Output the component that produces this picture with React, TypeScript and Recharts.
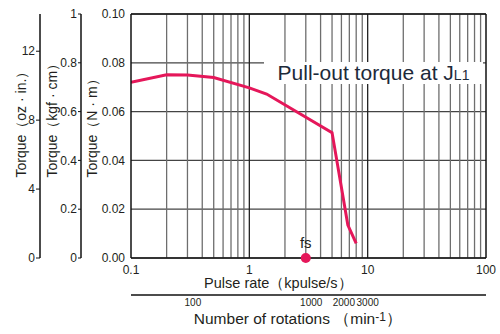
import {
  ComposedChart,
  Line,
  XAxis,
  YAxis,
  CartesianGrid,
  ReferenceLine,
  ReferenceDot,
} from 'recharts'

// pull-out torque curve
const pulseRate = [0.1, 0.2, 0.3, 0.5, 1.0, 1.4, 5.0, 6.8, 8.0]
const torqueNm = [0.072, 0.0751, 0.075, 0.074, 0.0697, 0.0672, 0.0514, 0.0135, 0.006]

const fsRate = 3.0

const pulseTicks = [0.1, 1, 10, 100]
const rpmTicks = [100, 1000, 2000, 3000]
const nmTicks = [0, 0.02, 0.04, 0.06, 0.08, 0.1]
const kgfTicks = [0, 0.2, 0.4, 0.6, 0.8, 1]
const ozTicks = [0, 4, 8, 12]

const decades = [0.1, 1, 10]
const minorSteps = [2, 3, 4, 5, 6, 7, 8, 9]
const minorLines = decades.flatMap((d) => minorSteps.map((m) => +(m * d).toFixed(2)))

const data = pulseRate.map((rate, i) => ({ rate, torque: torqueNm[i] }))

const TEXT = '#231f20'
const RED = '#e5175a'
const FONT = '"Liberation Sans", Arial, sans-serif'

// y axes are laid out by id order, innermost first
const NM = 'a_nm'
const KGF = 'b_kgf'
const OZ = 'c_oz'

function AxisTitle(props: any) {
  const { viewBox, text, dx } = props
  const cx = viewBox.x + dx
  const cy = viewBox.y + viewBox.height * 0.67
  return (
    <text
      x={cx}
      y={cy}
      transform={`rotate(-90 ${cx} ${cy})`}
      textAnchor="start"
      dominantBaseline="central"
      fill={TEXT}
      fontSize={14}
      fontFamily={FONT}
    >
      {text}
    </text>
  )
}

function PulseTitle(props: any) {
  const { viewBox } = props
  return (
    <text
      x={viewBox.x + viewBox.width * 0.415}
      y={viewBox.y + 30}
      textAnchor="middle"
      fill={TEXT}
      fontSize={14.5}
      fontFamily={FONT}
    >
      Pulse rate（kpulse/s）
    </text>
  )
}

function RpmTitle(props: any) {
  const { viewBox } = props
  return (
    <text
      x={viewBox.x + viewBox.width * 0.47}
      y={viewBox.y + 29}
      textAnchor="middle"
      fill={TEXT}
      fontSize={15.5}
      fontFamily={FONT}
    >
      Number of rotations （min
      <tspan fontSize={12} dy={-3}>-1</tspan>
      <tspan dy={3}>）</tspan>
    </text>
  )
}

// the 2000 label sits a little left in the original so it clears 3000
function RpmTick(props: any) {
  const { x, y, payload } = props
  const label = String(payload.value)
  return (
    <text
      x={x}
      y={y}
      dx={payload.value === 2000 ? -3 : 0}
      dy="0.71em"
      textAnchor="middle"
      fill={TEXT}
      fontSize={10}
      fontFamily={FONT}
    >
      {label}
    </text>
  )
}

export default function App() {
  const tick = { fill: TEXT, fontSize: 12, fontFamily: FONT }
  return (
    <div style={{ position: 'absolute', left: 0, top: 0, width: 500, height: 334, background: '#fff' }}>
      <ComposedChart
        width={500}
        height={334}
        data={data}
        margin={{ top: 14, right: 14, bottom: 0, left: 0 }}
      >
        <CartesianGrid
          xAxisId="pulse"
          yAxisId={NM}
          vertical={false}
          stroke="#444"
          strokeWidth={1.2}
        />
        <XAxis
          xAxisId="pulse"
          dataKey="rate"
          type="number"
          scale="log"
          domain={[0.1, 100]}
          allowDataOverflow
          ticks={pulseTicks}
          interval={0}
          tickFormatter={(v) => String(v)}
          tick={tick}
          tickLine={false}
          tickSize={6}
          tickMargin={1}
          axisLine={{ stroke: '#111', strokeWidth: 1.5 }}
          height={37}
          label={<PulseTitle />}
        />
        <XAxis
          xAxisId="rpm"
          dataKey="rpm"
          type="number"
          scale="log"
          domain={[30, 30000]}
          allowDataOverflow
          ticks={rpmTicks}
          interval={0}
          tick={<RpmTick />}
          tickLine={false}
          tickSize={2}
          tickMargin={2}
          axisLine={{ stroke: '#111', strokeWidth: 1.5 }}
          height={39}
          label={<RpmTitle />}
        />
        <YAxis
          yAxisId={NM}
          domain={[0, 0.1]}
          allowDataOverflow
          ticks={nmTicks}
          interval={0}
          tickFormatter={(v) => v.toFixed(2)}
          tick={tick}
          tickLine={false}
          tickSize={0}
          tickMargin={6}
          axisLine={{ stroke: '#111', strokeWidth: 1.5 }}
          width={50}
          label={<AxisTitle text="Torque（N · m）" dx={11} />}
        />
        <YAxis
          yAxisId={KGF}
          domain={[0, 1]}
          allowDataOverflow
          ticks={kgfTicks}
          interval={0}
          tickFormatter={(v) => String(v)}
          tick={tick}
          tickLine={{ stroke: '#111' }}
          tickSize={3}
          tickMargin={1}
          axisLine={{ stroke: '#111', strokeWidth: 1.5 }}
          width={41}
          label={<AxisTitle text="Torque（kgf · cm）" dx={12} />}
        />
        <YAxis
          yAxisId={OZ}
          domain={[0, 14.16]}
          allowDataOverflow
          ticks={ozTicks}
          interval={0}
          tick={tick}
          tickLine={{ stroke: '#111' }}
          tickSize={4}
          tickMargin={1}
          axisLine={{ stroke: '#111', strokeWidth: 1.5 }}
          width={40}
          label={<AxisTitle text="Torque（oz · in.）" dx={21} />}
        />
        {minorLines.map((v) => (
          <ReferenceLine
            key={v}
            x={v}
            xAxisId="pulse"
            yAxisId={NM}
            stroke="#6e6e6e"
            strokeWidth={1.3}
          />
        ))}
        {[1, 10].map((v) => (
          <ReferenceLine key={v} x={v} xAxisId="pulse" yAxisId={NM} stroke="#222" strokeWidth={1.3} />
        ))}
        <ReferenceLine x={100} xAxisId="pulse" yAxisId={NM} stroke="#111" strokeWidth={1.5} />
        <ReferenceLine y={0.1} xAxisId="pulse" yAxisId={NM} stroke="#111" strokeWidth={1.5} />
        <Line
          xAxisId="pulse"
          yAxisId={NM}
          dataKey="torque"
          type="linear"
          stroke={RED}
          strokeWidth={3}
          dot={false}
          isAnimationActive={false}
        />
        <ReferenceDot
          xAxisId="pulse"
          yAxisId={NM}
          x={fsRate}
          y={0}
          r={5}
          fill={RED}
          stroke="none"
          ifOverflow="visible"
          label={{ value: 'fs', position: 'top', offset: 5, fill: TEXT, fontSize: 15, fontFamily: FONT }}
        />
      </ComposedChart>
      <div
        style={{
          position: 'absolute',
          left: 264,
          top: 62,
          width: 219,
          height: 22,
          background: '#fff',
          color: '#1d2a3a',
          fontFamily: FONT,
          fontSize: 21,
          lineHeight: '22px',
          textAlign: 'center',
          whiteSpace: 'nowrap',
        }}
      >
        Pull-out torque at J<span style={{ fontSize: 14 }}>L1</span>
      </div>
    </div>
  )
}
